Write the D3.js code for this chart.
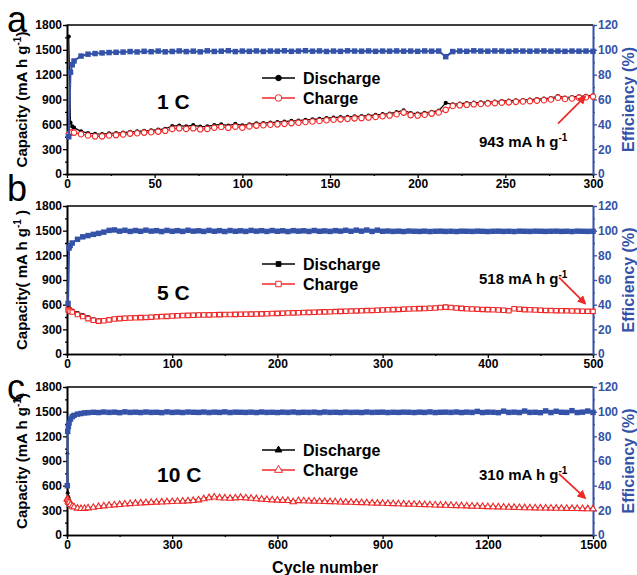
<!DOCTYPE html>
<html>
<head>
<meta charset="utf-8">
<script src="https://d3js.org/d3.v7.min.js"></script>
<style>
  body { margin: 0; background: #fff; }
  svg text { font-family: "Liberation Sans", Arial, sans-serif; font-weight: bold; }
</style>
</head>
<body>
<div id="chart"></div>
<script>
// ---------- values ----------
// panel a, 1 C
var cyclesA = [1, 2, 3, 4,
  8, 12, 16, 20, 24, 28, 32, 36, 40, 44,
  48, 52, 56, 60, 64, 68, 72, 76, 80, 84,
  88, 92, 96, 100, 104, 108, 112, 116, 120, 124,
  128, 132, 136, 140, 144, 148, 152, 156, 160, 164,
  168, 172, 176, 180, 184, 188, 192, 196, 200, 204,
  208, 212, 216, 220, 224, 228, 232, 236, 240, 244,
  248, 252, 256, 260, 264, 268, 272, 276, 280, 284,
  288, 292, 296, 300];
var dischargeA = [1660, 620, 575, 560,
  515, 495, 485, 482, 490, 495, 500, 510, 515, 522,
  528, 535, 545, 580, 585, 575, 590, 572, 575, 590,
  600, 585, 605, 588, 600, 612, 615, 622, 626, 632,
  642, 646, 655, 660, 666, 676, 680, 686, 690, 696,
  700, 706, 714, 722, 730, 748, 770, 736, 730, 740,
  752, 766, 858, 842, 850, 856, 862, 866, 872, 876,
  882, 886, 890, 894, 900, 904, 910, 918, 940, 924,
  930, 938, 944, 950];
var chargeA = [480, 500, 505, 500,
  480, 465, 455, 455, 465, 470, 478, 488, 492, 500,
  505, 512, 522, 545, 552, 545, 552, 540, 545, 560,
  568, 558, 572, 560, 575, 585, 590, 596, 600, 606,
  615, 620, 628, 634, 640, 650, 655, 660, 666, 672,
  676, 682, 690, 698, 706, 722, 742, 712, 706, 716,
  730, 744, 775, 822, 830, 836, 842, 846, 852, 856,
  862, 866, 872, 876, 880, 886, 892, 900, 922, 906,
  912, 922, 928, 935];
var effA = [30, 82, 88, 91,
  95, 96.5, 97, 97.5, 97.8, 98, 98.2, 98.6, 98.3, 98.8,
  98.5, 99.0, 98.4, 98.7, 99.1, 98.6, 98.9, 98.4, 99.2, 98.7,
  98.9, 99.3, 98.6, 99.0, 98.8, 99.1, 98.7, 99.0, 98.9, 99.2,
  98.8, 99.0, 99.3, 98.9, 99.1, 98.7, 99.0, 98.8, 99.2, 99.0,
  98.9, 99.1, 98.8, 99.0, 98.9, 99.1, 98.9, 99.0, 98.8, 99.1,
  98.9, 99.0, 94.5, 98.6, 99.0, 98.8, 99.2, 99.0, 98.9, 99.1,
  99.0, 98.8, 99.1, 99.0, 98.9, 99.0, 99.1, 98.9, 99.0, 98.8,
  99.0, 98.9, 99.0, 98.8];

// panel b, 5 C
var cyclesB = [1, 2, 3,
  5, 10, 15, 20, 25, 30, 35, 40, 45, 50,
  55, 60, 65, 70, 75, 80, 85, 90, 95, 100,
  105, 110, 115, 120, 125, 130, 135, 140, 145, 150,
  155, 160, 165, 170, 175, 180, 185, 190, 195, 200,
  205, 210, 215, 220, 225, 230, 235, 240, 245, 250,
  255, 260, 265, 270, 275, 280, 285, 290, 295, 300,
  305, 310, 315, 320, 325, 330, 335, 340, 345, 350,
  355, 360, 365, 370, 375, 380, 385, 390, 395, 400,
  405, 410, 415, 420, 425, 430, 435, 440, 445, 450,
  455, 460, 465, 470, 475, 480, 485, 490, 495, 500];
var dischargeB = [620, 560, 545,
  530, 500, 475, 450, 425, 412, 414, 423, 432, 438,
  443, 446, 448, 450, 453, 456, 460, 463, 466, 470,
  473, 476, 478, 480, 482, 483, 484, 486, 487, 488,
  489, 490, 491, 492, 493, 494, 496, 498, 500, 502,
  504, 506, 508, 510, 512, 514, 516, 518, 520, 522,
  524, 526, 528, 530, 532, 534, 536, 538, 540, 543,
  546, 548, 550, 553, 556, 558, 560, 562, 564, 568,
  574, 578, 573, 568, 563, 558, 556, 553, 550, 548,
  546, 543, 540, 533, 556, 552, 548, 546, 543, 540,
  538, 536, 535, 534, 533, 531, 530, 528, 527, 526];
var chargeB = [540, 530, 520,
  510, 480, 455, 430, 410, 400, 405, 415, 425, 430,
  435, 438, 440, 442, 445, 448, 452, 455, 458, 462,
  465, 468, 470, 472, 474, 475, 476, 478, 479, 480,
  481, 482, 483, 484, 485, 486, 488, 490, 492, 494,
  496, 498, 500, 502, 504, 506, 508, 510, 512, 514,
  516, 518, 520, 522, 524, 526, 528, 530, 532, 535,
  538, 540, 542, 545, 548, 550, 552, 554, 556, 560,
  566, 570, 565, 560, 555, 550, 548, 545, 542, 540,
  538, 535, 532, 525, 550, 545, 540, 538, 535, 532,
  530, 528, 527, 526, 525, 523, 522, 520, 519, 518];
var effB = [41, 86, 88,
  90, 93, 95, 96, 97, 97.8, 98.8, 100.2, 100.6, 99.6,
  100.3, 99.4, 100.1, 99.5, 100.4, 99.6, 100.0, 99.3, 100.2, 99.5,
  100.0, 99.4, 100.3, 99.6, 99.9, 99.4, 100.2, 99.5, 100.0, 99.3,
  100.1, 99.5, 99.9, 99.4, 100.2, 99.6, 100.0, 99.4, 100.1, 99.5,
  99.9, 99.3, 100.0, 99.6, 99.9, 99.4, 100.1, 99.5, 99.8, 99.4,
  100.0, 99.6, 100.3, 99.5, 100.4, 99.6, 100.5, 99.4, 100.4, 99.5,
  99.7, 99.4, 99.6, 99.3, 99.7, 99.5, 99.4, 99.6, 99.3, 99.5,
  99.6, 99.4, 99.5, 99.3, 99.6, 99.5, 99.4, 99.6, 99.5, 99.3,
  99.5, 99.6, 99.4, 99.5, 99.3, 99.6, 99.5, 99.4, 99.6, 99.5,
  99.4, 99.5, 99.6, 99.4, 99.5, 99.3, 99.6, 99.5, 99.4, 99.5];

// panel c, 10 C
var cyclesC = [1, 2, 4, 6, 10, 15, 20, 30, 40, 50, 60,
  75, 90, 105, 120, 135, 150, 165, 180, 195, 210,
  225, 240, 255, 270, 285, 300, 315, 330, 345, 360,
  375, 390, 405, 420, 435, 450, 465, 480, 495, 510,
  525, 540, 555, 570, 585, 600, 615, 630, 645, 660,
  675, 690, 705, 720, 735, 750, 765, 780, 795, 810,
  825, 840, 855, 870, 885, 900, 915, 930, 945, 960,
  975, 990, 1005, 1020, 1035, 1050, 1065, 1080, 1095, 1110,
  1125, 1140, 1155, 1170, 1185, 1200, 1215, 1230, 1245, 1260,
  1275, 1290, 1305, 1320, 1335, 1350, 1365, 1380, 1395, 1410,
  1425, 1440, 1455, 1470, 1485, 1500];
var dischargeC = [1000, 520, 470, 440, 400, 372, 356, 335, 327, 328, 333,
  340, 350, 357, 365, 370, 375, 380, 385, 390, 393,
  397, 400, 403, 405, 408, 410, 413, 415, 418, 423,
  430, 445, 457, 465, 457, 453, 451, 455, 460, 455,
  450, 445, 440, 435, 430, 427, 425, 423, 407, 421,
  419, 417, 415, 413, 411, 409, 407, 405, 403, 401,
  399, 397, 395, 393, 391, 389, 387, 385, 383, 381,
  379, 377, 375, 373, 371, 369, 367, 365, 363, 361,
  359, 357, 355, 353, 351, 349, 347, 345, 343, 341,
  339, 337, 335, 334, 333, 332, 331, 330, 329, 328,
  327, 326, 325, 324, 323, 322];
var chargeC = [440, 430, 410, 395, 370, 350, 340, 325, 320, 322, 328,
  335, 345, 352, 360, 365, 370, 375, 380, 385, 388,
  392, 395, 398, 400, 403, 405, 408, 410, 413, 418,
  425, 440, 452, 460, 452, 448, 446, 450, 455, 450,
  445, 440, 435, 430, 425, 422, 420, 418, 402, 416,
  414, 412, 410, 408, 406, 404, 402, 400, 398, 396,
  394, 392, 390, 388, 386, 384, 382, 380, 378, 376,
  374, 372, 370, 368, 366, 364, 362, 360, 358, 356,
  354, 352, 350, 348, 346, 344, 342, 340, 338, 336,
  334, 332, 330, 329, 328, 327, 326, 325, 324, 323,
  322, 321, 320, 319, 318, 317];
var effC = [40, 84, 88, 91, 94, 96, 97, 98, 98.5, 99, 99.2,
  99.5, 99.3, 99.7, 99.4, 99.6, 99.2, 99.8, 99.4, 99.6, 99.3,
  99.7, 99.4, 99.5, 99.2, 99.8, 99.4, 99.6, 99.3, 99.7, 99.5,
  99.4, 99.7, 99.3, 99.6, 99.4, 99.8, 99.3, 99.6, 99.5, 99.4,
  99.6, 99.3, 99.7, 99.4, 99.5, 99.3, 99.6, 99.4, 99.7, 99.3,
  99.5, 99.4, 99.6, 99.2, 99.7, 99.4, 99.5, 99.3, 99.6, 99.4,
  99.5, 99.3, 99.7, 99.4, 99.5, 99.6, 99.3, 99.5, 99.4, 99.6,
  99.5, 99.3, 99.6, 99.4, 99.8, 99.3, 99.5, 99.6, 99.4, 99.7,
  99.3, 99.6, 99.4, 100.2, 99.3, 99.6, 99.5, 99.2, 100.4, 99.4,
  99.6, 99.3, 100.5, 99.4, 99.5, 99.2, 100.6, 99.3, 100.3, 99.5,
  99.4, 100.8, 99.3, 99.6, 100.5, 99.4];

// ticks
var capTicks = [0, 300, 600, 900, 1200, 1500, 1800];
var capMinor = [150, 450, 750, 1050, 1350, 1650];
var effTicks = [0, 20, 40, 60, 80, 100, 120];
var effMinor = [10, 30, 50, 70, 90, 110];
var xTicksA = [0, 50, 100, 150, 200, 250, 300];
var xMinorA = [25, 75, 125, 175, 225, 275];
var xTicksB = [0, 100, 200, 300, 400, 500];
var xMinorB = [50, 150, 250, 350, 450];
var xTicksC = [0, 300, 600, 900, 1200, 1500];
var xMinorC = [150, 450, 750, 1050, 1350];

// ---------- layout ----------
var W = 637, H = 575;
var left = 67, right = 593;
var blue = "#3452a8", red = "#f02828";
var fmt = d3.format("d");

var svg = d3.select("#chart").append("svg")
    .attr("width", W).attr("height", H);
svg.append("rect").attr("width", W).attr("height", H).attr("fill", "#fff");

svg.append("defs").append("marker")
    .attr("id", "arr").attr("viewBox", "0 0 10 10")
    .attr("refX", 8).attr("refY", 5)
    .attr("markerWidth", 5).attr("markerHeight", 5)
    .attr("orient", "auto")
    .append("path").attr("d", "M0,0L10,5L0,10z").attr("fill", red);

var panels = [
    { letter: "a", letterY: 32, top: 25, bottom: 174, xmax: 300, xt: xTicksA, xm: xMinorA,
      cyc: cyclesA, dis: dischargeA, chg: chargeA, eff: effA,
      sym: d3.symbolCircle, disSize: 14, chgSize: 24, rate: "1 C", rateY: 109,
      legY: 78, capLabel: "Capacity (mA h g", capEnd: ")",
      note: "943 mA h g", noteY: 147, tip: [-8, 0], tail: [-27, 27] },
    { letter: "b", letterY: 201, top: 206, bottom: 354, xmax: 500, xt: xTicksB, xm: xMinorB,
      cyc: cyclesB, dis: dischargeB, chg: chargeB, eff: effB,
      sym: d3.symbolSquare, disSize: 12, chgSize: 20, rate: "5 C", rateY: 300,
      legY: 264, capLabel: "Capacity( mA h g", capEnd: " )",
      note: "518 mA h g", noteY: 284, tip: [-8, -8], tail: [-26, -26] },
    { letter: "c", letterY: 400, top: 387, bottom: 535, xmax: 1500, xt: xTicksC, xm: xMinorC,
      cyc: cyclesC, dis: dischargeC, chg: chargeC, eff: effC,
      sym: d3.symbolTriangle, disSize: 10, chgSize: 18, rate: "10 C", rateY: 482,
      legY: 450, capLabel: "Capacity (mA h g", capEnd: ")",
      note: "310 mA h g", noteY: 480, tip: [-8, -11], tail: [-26, -24] }
];

function styleAxis(g, color) {
    g.attr("font-size", 12)
     .attr("font-family", "'Liberation Sans', Arial, sans-serif")
     .attr("font-weight", "bold");
    g.selectAll("line").attr("stroke", color).attr("stroke-width", 1.3);
    g.select(".domain").attr("stroke", color).attr("stroke-width", 1.6);
    g.selectAll("text").attr("fill", color);
}

panels.forEach(function (p) {
    var x = d3.scaleLinear().domain([0, p.xmax]).range([left, right]);
    var y = d3.scaleLinear().domain([0, 1800]).range([p.bottom, p.top]);
    var ye = d3.scaleLinear().domain([0, 120]).range([p.bottom, p.top]);
    var g = svg.append("g");

    // frame top
    g.append("line")
        .attr("x1", left).attr("x2", right)
        .attr("y1", p.top).attr("y2", p.top)
        .attr("stroke", "#000").attr("stroke-width", 1.6);

    // axes
    var axL = g.append("g").attr("transform", "translate(" + left + ",0)")
        .call(d3.axisLeft(y).tickValues(capTicks).tickFormat(fmt).tickSize(4).tickPadding(1).tickSizeOuter(0));
    styleAxis(axL, "#000");
    var axLm = g.append("g").attr("transform", "translate(" + left + ",0)")
        .call(d3.axisLeft(y).tickValues(capMinor).tickSize(2).tickFormat(""));
    styleAxis(axLm, "#000");

    var axB = g.append("g").attr("transform", "translate(0," + p.bottom + ")")
        .call(d3.axisBottom(x).tickValues(p.xt).tickFormat(fmt).tickSize(4).tickPadding(1).tickSizeOuter(0));
    styleAxis(axB, "#000");
    var axBm = g.append("g").attr("transform", "translate(0," + p.bottom + ")")
        .call(d3.axisBottom(x).tickValues(p.xm).tickSize(2).tickFormat(""));
    styleAxis(axBm, "#000");

    var axR = g.append("g").attr("transform", "translate(" + right + ",0)")
        .call(d3.axisRight(ye).tickValues(effTicks).tickFormat(fmt).tickSize(4).tickPadding(1).tickSizeOuter(0));
    styleAxis(axR, blue);
    var axRm = g.append("g").attr("transform", "translate(" + right + ",0)")
        .call(d3.axisRight(ye).tickValues(effMinor).tickSize(2).tickFormat(""));
    styleAxis(axRm, blue);

    // series
    var dis = p.cyc.map(function (c, i) { return { c: c, v: p.dis[i] }; });
    var chg = p.cyc.map(function (c, i) { return { c: c, v: p.chg[i] }; });
    var eff = p.cyc.map(function (c, i) { return { c: c, v: p.eff[i] }; });

    var lineCap = d3.line().x(function (d) { return x(d.c); }).y(function (d) { return y(d.v); });
    var lineEff = d3.line().x(function (d) { return x(d.c); }).y(function (d) { return ye(d.v); });

    g.append("path").datum(dis).attr("d", lineCap)
        .attr("fill", "none").attr("stroke", "#000").attr("stroke-width", 1.2);
    g.selectAll(".dis").data(dis).enter().append("path")
        .attr("transform", function (d) { return "translate(" + x(d.c) + "," + y(d.v) + ")"; })
        .attr("d", d3.symbol().type(p.sym).size(p.disSize))
        .attr("fill", "#000");

    g.append("path").datum(chg).attr("d", lineCap)
        .attr("fill", "none").attr("stroke", red).attr("stroke-width", 1.2);
    g.selectAll(".chg").data(chg).enter().append("path")
        .attr("transform", function (d) { return "translate(" + x(d.c) + "," + y(d.v) + ")"; })
        .attr("d", d3.symbol().type(p.sym).size(p.chgSize))
        .attr("fill", "#fff").attr("stroke", red).attr("stroke-width", 1.1);

    g.append("path").datum(eff).attr("d", lineEff)
        .attr("fill", "none").attr("stroke", blue).attr("stroke-width", 2);
    g.selectAll(".eff").data(eff).enter().append("path")
        .attr("transform", function (d) { return "translate(" + x(d.c) + "," + ye(d.v) + ")"; })
        .attr("d", d3.symbol().type(d3.symbolSquare).size(30))
        .attr("fill", blue);

    // legend
    var lg = [{ name: "Discharge", col: "#000", fill: "#000", size: p.disSize + 10 },
              { name: "Charge", col: red, fill: "#fff", size: p.chgSize + 10 }];
    lg.forEach(function (l, i) {
        var ly = p.legY + i * 20;
        g.append("line").attr("x1", 262).attr("x2", 295).attr("y1", ly).attr("y2", ly)
            .attr("stroke", l.col).attr("stroke-width", 1.6);
        g.append("path").attr("transform", "translate(278.5," + ly + ")")
            .attr("d", d3.symbol().type(p.sym).size(l.size))
            .attr("fill", l.fill).attr("stroke", l.col).attr("stroke-width", 1);
        g.append("text").attr("x", 303).attr("y", ly + 5.5)
            .attr("font-size", 16).text(l.name);
    });

    // rate label
    g.append("text").attr("x", 157).attr("y", p.rateY)
        .attr("font-size", 21).text(p.rate);

    // panel letter
    svg.append("text").attr("x", 7).attr("y", p.letterY)
        .attr("font-size", 36)
        .style("font-weight", "normal").text(p.letter);

    // capacity label
    var cy = (p.top + p.bottom) / 2;
    var ct = g.append("text")
        .attr("transform", "translate(27," + cy + ") rotate(-90)")
        .attr("text-anchor", "middle").attr("font-size", 15);
    ct.append("tspan").text(p.capLabel);
    ct.append("tspan").attr("font-size", 10).attr("dy", -6).text("-1");
    ct.append("tspan").attr("dy", 6).text(p.capEnd);

    // efficiency label
    g.append("text")
        .attr("transform", "translate(634," + cy + ") rotate(-90)")
        .attr("text-anchor", "middle").attr("font-size", 16)
        .attr("fill", blue).text("Efficiency (%)");

    // end-value note with arrow
    var nt = g.append("text").attr("x", 479).attr("y", p.noteY).attr("font-size", 15);
    nt.append("tspan").text(p.note);
    nt.append("tspan").attr("font-size", 10).attr("dy", -6).text("-1");

    var lastC = p.cyc[p.cyc.length - 1], lastV = p.chg[p.chg.length - 1];
    var tx = x(lastC) + p.tip[0], ty = y(lastV) + p.tip[1];
    g.append("line")
        .attr("x1", tx + p.tail[0]).attr("y1", ty + p.tail[1])
        .attr("x2", tx).attr("y2", ty)
        .attr("stroke", red).attr("stroke-width", 1.8)
        .attr("marker-end", "url(#arr)");
});

// x title
svg.append("text").attr("x", 325).attr("y", 573)
    .attr("text-anchor", "middle").attr("font-size", 16).text("Cycle number");
</script>
</body>
</html>
